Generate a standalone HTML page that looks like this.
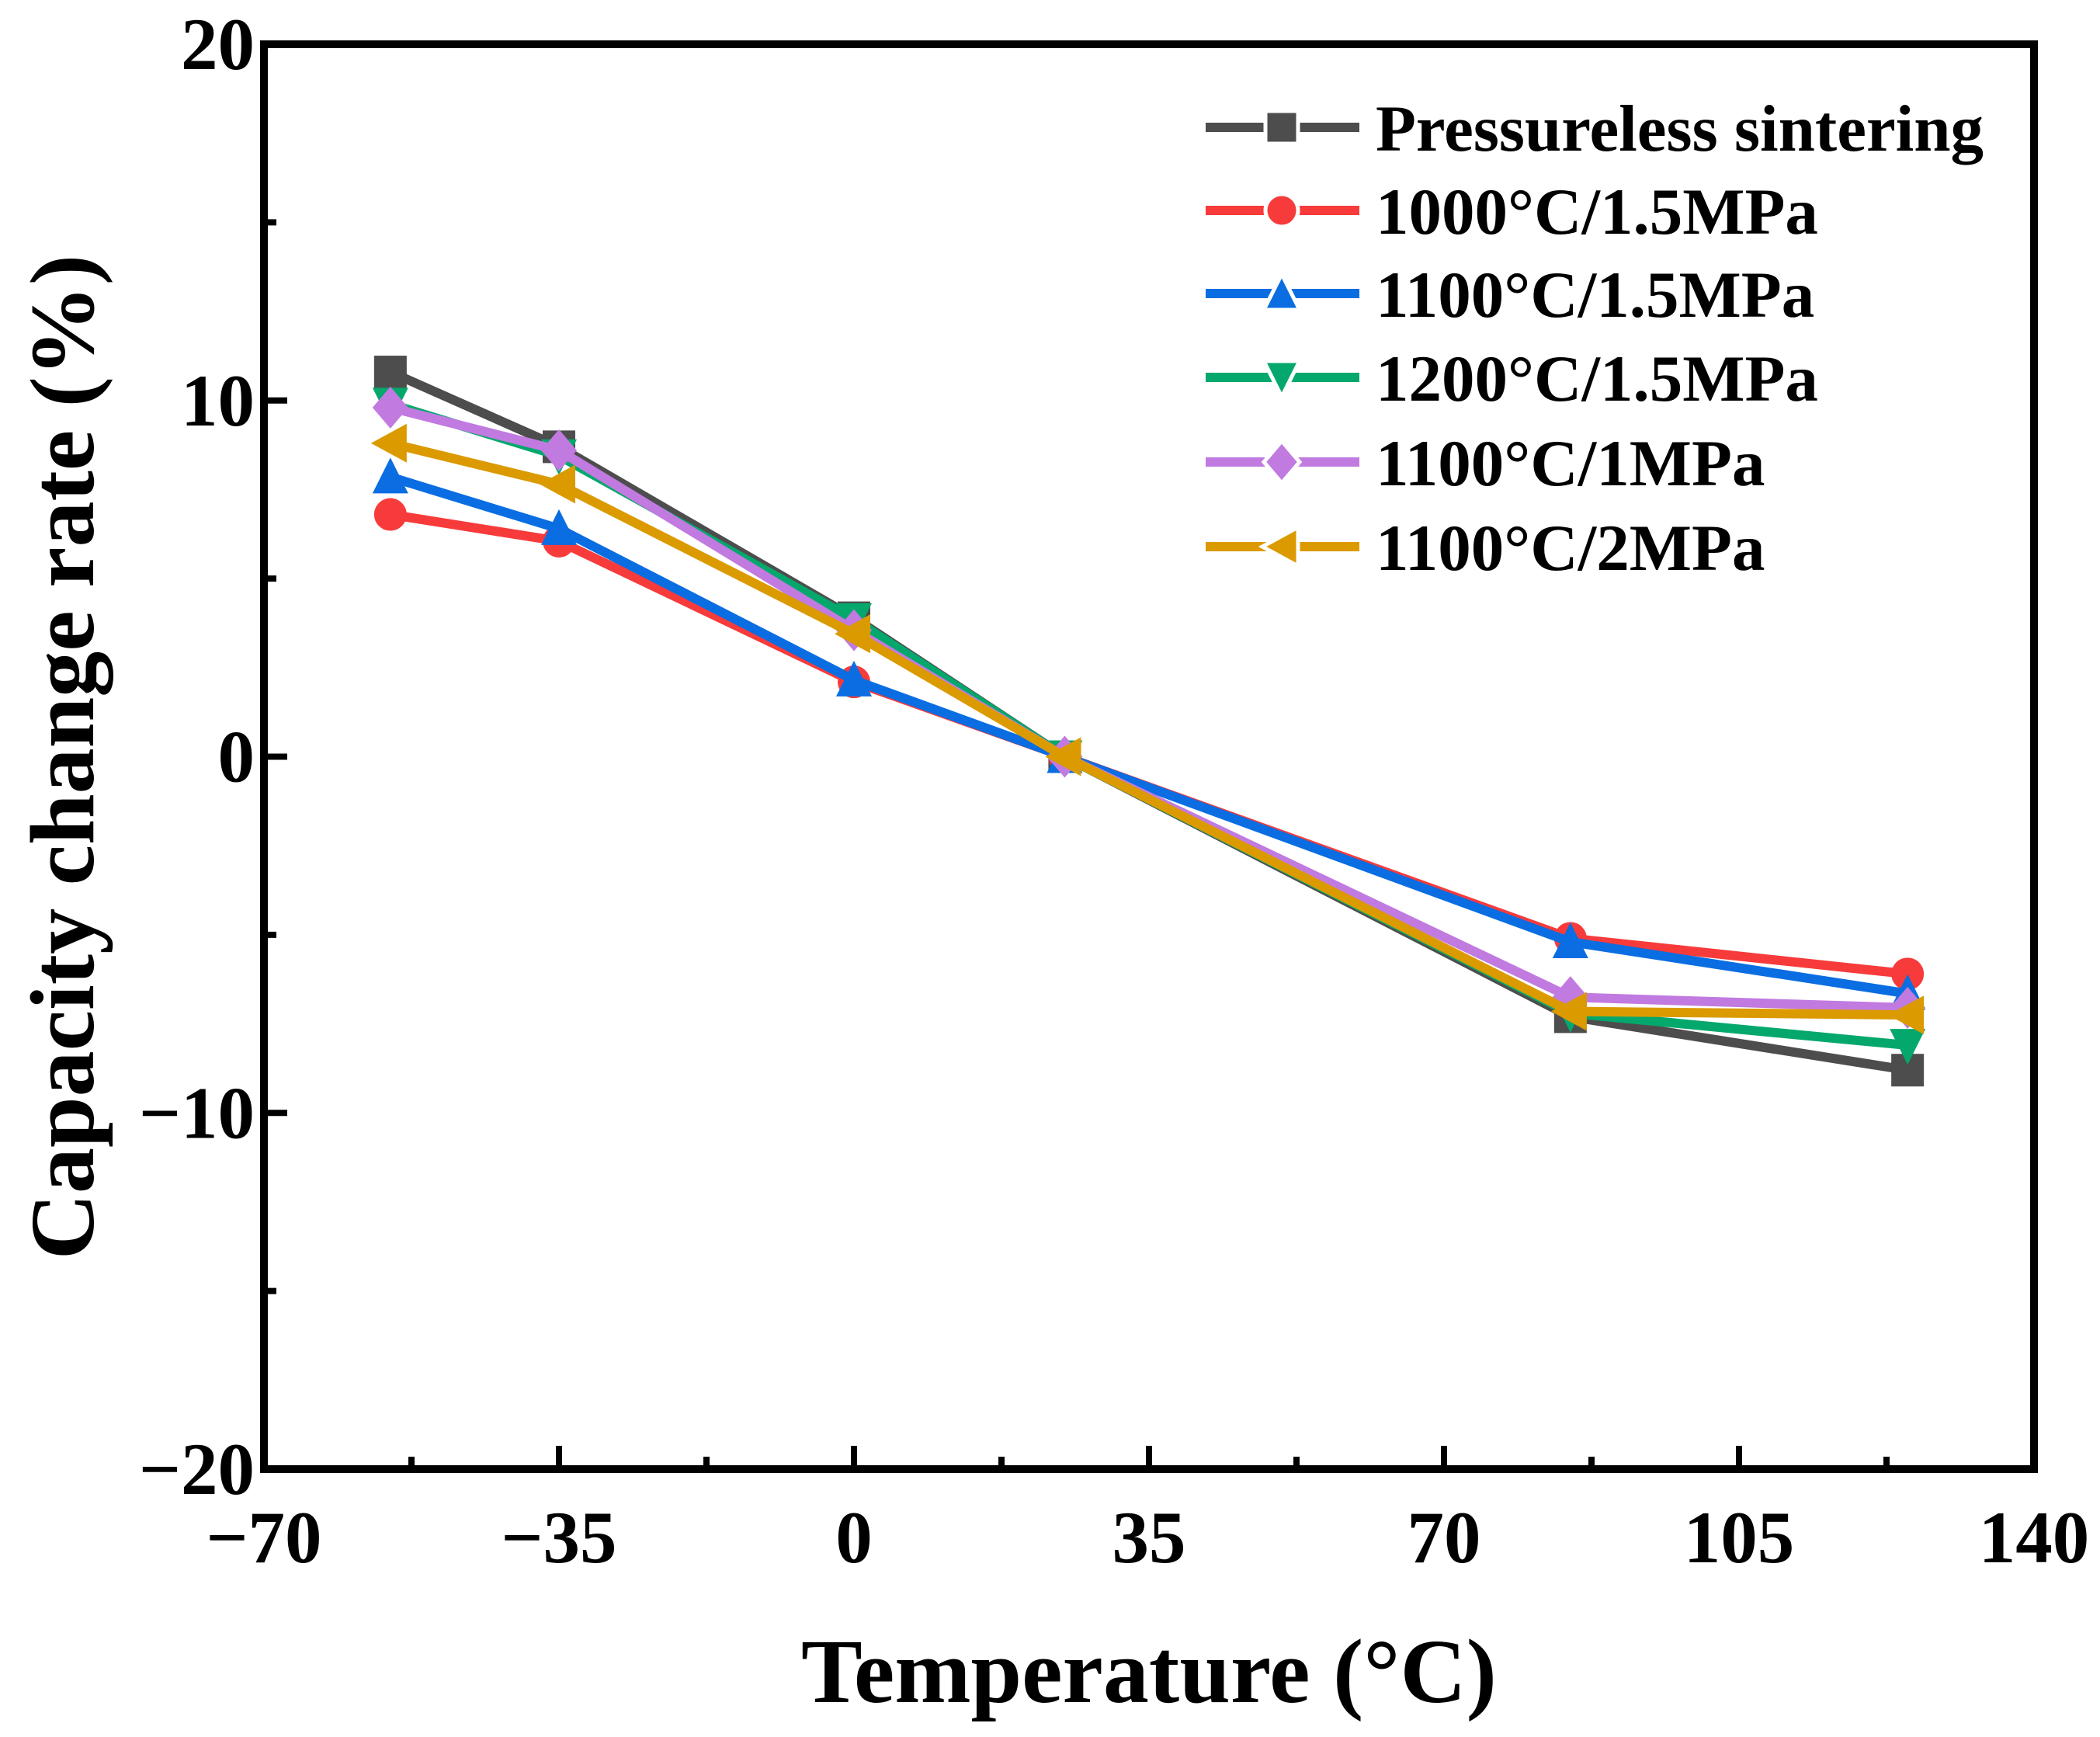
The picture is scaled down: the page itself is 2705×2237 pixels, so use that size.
<!DOCTYPE html>
<html><head><meta charset="utf-8"><style>
html,body{margin:0;padding:0;background:#fff;}
svg{display:block;}
text{font-family:"Liberation Serif",serif;font-weight:bold;fill:#000;}
</style></head><body>
<svg id="chart" width="2705" height="2237" viewBox="0 0 2705 2237" xmlns="http://www.w3.org/2000/svg">
<g id="series-layer"></g>
<g id="axes-layer"></g>
<g id="legend-layer"></g>
<text x="1480" y="2192" font-size="118" text-anchor="middle">Temperature (°C)</text>
<text x="0" y="0" font-size="118" text-anchor="middle" transform="translate(120,975) rotate(-90)">Capacity change rate (%)</text>
</svg>
<script>
const temps = [-55, -35, 0, 25, 85, 125];
const seriesNames = ["Pressureless sintering","1000°C/1.5MPa","1100°C/1.5MPa","1200°C/1.5MPa","1100°C/1MPa","1100°C/2MPa"];
const pressureless = [10.8, 8.7, 3.9, 0, -7.3, -8.8];
const s1000_15 = [6.8, 6.05, 2.1, 0, -5.1, -6.1];
const s1100_15 = [7.85, 6.4, 2.15, 0, -5.2, -6.65];
const s1200_15 = [9.9, 8.45, 3.85, 0, -7.2, -8.1];
const s1100_1 = [9.8, 8.6, 3.55, 0, -6.75, -7.05];
const s1100_2 = [8.8, 7.65, 3.45, 0, -7.15, -7.25];
const xTicks = [-70, -35, 0, 35, 70, 105, 140];
const yTicks = [-20, -10, 0, 10, 20];

const NS = "http://www.w3.org/2000/svg";
const L = 340, R = 2620, T = 57, B = 1892;
const xMin = -70, xMax = 140, yMin = -20, yMax = 20;
const sx = v => L + (v - xMin) / (xMax - xMin) * (R - L);
const sy = v => B - (v - yMin) / (yMax - yMin) * (B - T);

function mk(tag, attrs, parent) {
  const e = document.createElementNS(NS, tag);
  for (const k in attrs) e.setAttribute(k, attrs[k]);
  parent.appendChild(e);
  return e;
}
function marker(shape, cx, cy, color, parent) {
  const s = 21;
  let e;
  if (shape === "square") e = mk("rect", {x: cx - s, y: cy - s, width: 2 * s, height: 2 * s, fill: color}, parent);
  else if (shape === "circle") e = mk("circle", {cx: cx, cy: cy, r: s, fill: color}, parent);
  else if (shape === "up") e = mk("polygon", {points: `${cx},${cy - s - 4} ${cx - s - 2},${cy + s} ${cx + s + 2},${cy + s}`, fill: color}, parent);
  else if (shape === "down") e = mk("polygon", {points: `${cx},${cy + s + 4} ${cx - s - 2},${cy - s} ${cx + s + 2},${cy - s}`, fill: color}, parent);
  else if (shape === "diamond") e = mk("polygon", {points: `${cx},${cy - s - 6} ${cx + s + 2},${cy} ${cx},${cy + s + 6} ${cx - s - 2},${cy}`, fill: color}, parent);
  else e = mk("polygon", {points: `${cx - s - 4},${cy} ${cx + s},${cy - s - 4} ${cx + s},${cy + s + 4}`, fill: color}, parent);
  return e;
}

const seriesVals = [pressureless, s1000_15, s1100_15, s1200_15, s1100_1, s1100_2];
const colors = ["#4d4d4d", "#f73b3b", "#0a6de2", "#05a86c", "#c17ae0", "#db9a00"];
const shapes = ["square", "circle", "up", "down", "diamond", "left"];
const slugs = ["pressureless", "1000c-1-5mpa", "1100c-1-5mpa", "1200c-1-5mpa", "1100c-1mpa", "1100c-2mpa"];

const sl = document.getElementById("series-layer");
seriesVals.forEach((vals, i) => {
  const g = mk("g", {}, sl);
  
  
  const pts = vals.map((v, j) => sx(temps[j]) + "," + sy(v)).join(" ");
  const line = mk("polyline", {points: pts, fill: "none", stroke: colors[i], "stroke-width": 12, "stroke-linejoin": "round"}, g);
  
  
  vals.forEach((v, j) => {
    const m = marker(shapes[i], sx(temps[j]), sy(v), colors[i], g);
    
    
  });
});

const al = document.getElementById("axes-layer");
const frame = mk("rect", {x: L, y: T, width: R - L, height: B - T, fill: "none", stroke: "#000", "stroke-width": 10}, al);


xTicks.forEach((t, i) => {
  const x = sx(t);
  const tk = mk("line", {x1: x, y1: B, x2: x, y2: B - 30, stroke: "#000", "stroke-width": 8}, al);
  
  
  if (i < xTicks.length - 1) {
    const mx = sx(t + 17.5);
    const mt = mk("line", {x1: mx, y1: B, x2: mx, y2: B - 16, stroke: "#000", "stroke-width": 8}, al);
    
    
  }
  const lb = mk("text", {x: x, y: 2012, "font-size": 95, "text-anchor": "middle"}, al);
  lb.textContent = t < 0 ? "\u2212" + (-t) : String(t);
  
  
});
yTicks.forEach((t, i) => {
  const y = sy(t);
  const tk = mk("line", {x1: L, y1: y, x2: L + 30, y2: y, stroke: "#000", "stroke-width": 8}, al);
  
  
  if (i < yTicks.length - 1) {
    const my = sy(t + 5);
    const mt = mk("line", {x1: L, y1: my, x2: L + 16, y2: my, stroke: "#000", "stroke-width": 8}, al);
    
    
  }
  const lb = mk("text", {x: 328, y: y + 32, "font-size": 95, "text-anchor": "end"}, al);
  lb.textContent = t < 0 ? "\u2212" + (-t) : String(t);
  
  
});

const ll = document.getElementById("legend-layer");
const legendY = [164, 271, 378, 486, 595, 704];
seriesNames.forEach((n, i) => {
  const g = mk("g", {}, ll);
  
  
  const y = legendY[i];
  mk("line", {x1: 1553, y1: y, x2: 1751, y2: y, stroke: colors[i], "stroke-width": 12}, g);
  const m = marker(shapes[i], 1651, y, colors[i], g);
  m.setAttribute("stroke", "#fff");
  m.setAttribute("stroke-width", "5");
  const tx = mk("text", {x: 1772, y: y + 30, "font-size": 85}, g);
  tx.textContent = n;
});
</script>
</body></html>
